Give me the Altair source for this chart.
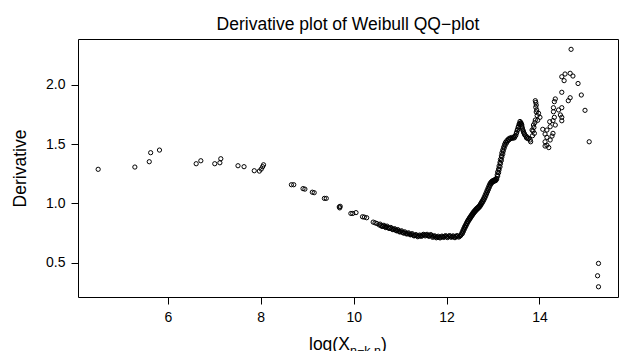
import altair as alt
import pandas as pd

# ---- data ----
x_vals = [
    4.50, 5.29, 5.60, 5.63, 5.82, 6.61, 6.71, 7.01, 7.12, 7.14, 7.51, 7.64, 7.86, 7.97, 8.01, 8.04, 8.06,
    8.66, 8.71, 8.91, 8.95, 9.11, 9.15, 9.37, 9.41, 9.69, 9.70, 9.71, 9.94, 9.98, 10.05,
    10.19, 10.23, 10.28, 10.42, 10.46, 10.50,
    10.55, 10.59, 10.63, 10.67, 10.70, 10.74, 10.78, 10.82, 10.86, 10.90, 10.93, 10.97, 11.01, 11.05,
    11.08, 11.12, 11.16, 11.20, 11.24, 11.28, 11.32, 11.36, 11.40, 11.44, 11.48, 11.52, 11.56, 11.60,
    11.64, 11.68, 11.72, 11.76, 11.80, 11.84, 11.88, 11.92, 11.96, 12.00, 12.04, 12.08, 12.12, 12.16,
    12.20, 12.24, 12.28, 12.31,
    12.33, 12.35, 12.37, 12.39, 12.41, 12.43, 12.45, 12.47, 12.49, 12.51, 12.53, 12.55, 12.57, 12.59,
    12.61, 12.63, 12.65, 12.67, 12.69, 12.71, 12.73, 12.75, 12.77, 12.79, 12.81, 12.83, 12.85, 12.87,
    12.89, 12.91, 12.93, 12.95, 12.97, 12.99, 13.01, 13.03, 13.05, 13.07, 13.09, 13.10, 13.12, 13.13,
    13.15, 13.16, 13.18, 13.19, 13.21, 13.23, 13.25, 13.27, 13.30, 13.33, 13.36, 13.40, 13.44, 13.47,
    13.50, 13.52, 13.54, 13.56, 13.58, 13.60, 13.62, 13.63, 13.65, 13.67, 13.70, 13.73, 13.77, 13.80,
    # second pass through the dense band
    10.57, 10.61, 10.65, 10.69, 10.72, 10.76, 10.80, 10.84, 10.88, 10.92, 10.95, 10.99, 11.03, 11.07,
    11.10, 11.14, 11.18, 11.22, 11.26, 11.30, 11.34, 11.38, 11.42, 11.46, 11.50, 11.54, 11.58, 11.62,
    11.66, 11.70, 11.74, 11.78, 11.82, 11.86, 11.90, 11.94, 11.98, 12.02, 12.06, 12.10, 12.14, 12.18,
    12.22, 12.26, 12.30,
    12.34, 12.36, 12.38, 12.40, 12.42, 12.44, 12.46, 12.48, 12.50, 12.52, 12.54, 12.56, 12.58, 12.60,
    12.62, 12.64, 12.66, 12.68, 12.70, 12.72, 12.74, 12.76, 12.78, 12.80, 12.82, 12.84, 12.86, 12.88,
    12.90, 12.92, 12.94, 12.96, 12.98, 13.00, 13.02, 13.04, 13.06, 13.08, 13.10, 13.12, 13.13, 13.15,
    13.16, 13.18, 13.19, 13.21, 13.22, 13.24, 13.26, 13.29, 13.32, 13.35, 13.38, 13.42, 13.46, 13.49,
    13.51, 13.53, 13.55, 13.57, 13.59, 13.61, 13.62, 13.64, 13.66, 13.68, 13.72, 13.75,
    # scattered upper tail
    13.81, 13.84, 13.87, 13.89, 13.91, 13.91, 13.93, 13.94, 13.98, 14.01, 13.92, 13.92, 13.93, 13.95,
    13.96, 13.90, 13.88, 13.86, 13.85,
    14.07, 14.12, 14.16, 14.16, 14.12, 14.23, 14.22, 14.23, 14.27, 14.29, 14.16, 14.20, 14.12,
    14.30, 14.30, 14.32, 14.29, 14.34, 14.34, 14.32, 14.41, 14.45, 14.48, 14.48, 14.48, 14.48,
    14.48, 14.55, 14.66, 14.72, 14.53, 14.68, 14.83, 14.90, 14.66, 14.62, 14.98, 15.07,
    15.27, 15.25, 15.27,
]
y_vals = [
    1.287, 1.306, 1.351, 1.427, 1.449, 1.334, 1.359, 1.334, 1.342, 1.376, 1.317, 1.309, 1.275, 1.272, 1.289, 1.309, 1.325,
    1.157, 1.157, 1.124, 1.120, 1.094, 1.090, 1.042, 1.042, 0.970, 0.962, 0.975, 0.915, 0.915, 0.922,
    0.887, 0.884, 0.879, 0.842, 0.836, 0.830,
    0.818, 0.812, 0.808, 0.803, 0.801, 0.795, 0.790, 0.785, 0.780, 0.776, 0.771, 0.766, 0.762, 0.757,
    0.752, 0.749, 0.745, 0.742, 0.738, 0.733, 0.729, 0.727, 0.725, 0.727, 0.731, 0.734, 0.732, 0.729,
    0.731, 0.726, 0.721, 0.718, 0.716, 0.714, 0.716, 0.719, 0.722, 0.718, 0.721, 0.724, 0.720, 0.717,
    0.721, 0.725, 0.722, 0.735,
    0.752, 0.770, 0.788, 0.805, 0.820, 0.836, 0.850, 0.863, 0.876, 0.887, 0.899, 0.910, 0.922, 0.932,
    0.941, 0.950, 0.958, 0.965, 0.972, 0.982, 0.995, 1.008, 1.021, 1.035, 1.052, 1.070, 1.088, 1.107,
    1.126, 1.145, 1.163, 1.175, 1.184, 1.190, 1.193, 1.198, 1.200, 1.210, 1.240, 1.265, 1.290, 1.315,
    1.345, 1.370, 1.400, 1.425, 1.450, 1.475, 1.498, 1.515, 1.530, 1.542, 1.550, 1.555, 1.558, 1.566,
    1.590, 1.615, 1.640, 1.665, 1.690, 1.680, 1.660, 1.635, 1.610, 1.590, 1.570, 1.560, 1.548, 1.534,
    # second pass through the dense band
    0.825, 0.806, 0.815, 0.796, 0.808, 0.789, 0.797, 0.779, 0.787, 0.769, 0.779, 0.759, 0.769, 0.750,
    0.760, 0.742, 0.752, 0.735, 0.745, 0.726, 0.737, 0.719, 0.733, 0.722, 0.739, 0.726, 0.739, 0.722,
    0.737, 0.714, 0.727, 0.710, 0.723, 0.709, 0.724, 0.713, 0.728, 0.712, 0.728, 0.714, 0.726, 0.711,
    0.728, 0.716, 0.728,
    0.745, 0.762, 0.780, 0.797, 0.812, 0.828, 0.843, 0.856, 0.868, 0.880, 0.892, 0.903, 0.914, 0.925,
    0.934, 0.943, 0.951, 0.958, 0.966, 0.975, 0.987, 1.000, 1.013, 1.027, 1.043, 1.060, 1.078, 1.097,
    1.116, 1.135, 1.153, 1.166, 1.176, 1.183, 1.186, 1.190, 1.193, 1.205, 1.230, 1.258, 1.282, 1.308,
    1.335, 1.362, 1.390, 1.415, 1.440, 1.465, 1.488, 1.508, 1.526, 1.538, 1.545, 1.548, 1.552, 1.572,
    1.598, 1.622, 1.648, 1.672, 1.675, 1.668, 1.645, 1.620, 1.598, 1.578, 1.552, 1.545,
    # scattered upper tail
    1.519, 1.618, 1.660, 1.590, 1.702, 1.865, 1.829, 1.787, 1.759, 1.725, 1.850, 1.810, 1.770, 1.740,
    1.700, 1.680, 1.640, 1.610, 1.570,
    1.624, 1.584, 1.618, 1.556, 1.519, 1.534, 1.688, 1.646, 1.567, 1.590, 1.490, 1.470, 1.483,
    1.806, 1.772, 1.725, 1.697, 1.660, 1.880, 1.857, 1.787, 1.745, 1.725, 1.696, 1.806, 1.936,
    2.067, 2.090, 2.096, 2.073, 2.034, 2.298, 2.010, 1.913, 1.890, 1.865, 1.784, 1.519,
    0.494, 0.390, 0.297,
]
x_ticks = [6, 8, 10, 12, 14]
y_ticks = [0.5, 1.0, 1.5, 2.0]
title_text = ["Derivative plot of Weibull QQ\u2212plot"]
y_title = "Derivative"
x_title_parts = ["log(X", "n\u2212k,n", ")"]

FONT = "Liberation Sans"
W, H = 540, 258

df = pd.DataFrame({"x": x_vals, "y": y_vals})

xscale = alt.Scale(domain=[4.066, 15.69], nice=False, zero=False)
yscale = alt.Scale(domain=[0.211, 2.385], nice=False, zero=False)

points = alt.Chart(df).mark_point(
    shape="circle", filled=False, color="black", size=18, strokeWidth=1, opacity=1
).encode(
    x=alt.X("x:Q", scale=xscale,
            axis=alt.Axis(values=x_ticks, title=None, domain=False, grid=False,
                          tickSize=7, tickColor="black", tickWidth=1,
                          labelFontSize=14, labelColor="black", labelFont=FONT,
                          labelPadding=6, format="d", labelFlush=False)),
    y=alt.Y("y:Q", scale=yscale,
            axis=alt.Axis(values=y_ticks, format=".1f", title=y_title,
                          titleFont=FONT, titleFontSize=17.5, titleFontWeight="normal",
                          titleColor="black", titleX=-58, titleY=H / 2, titleAngle=270,
                          titleBaseline="middle", titleAlign="center",
                          domain=False, grid=False, tickSize=7, tickColor="black", tickWidth=1,
                          labelFontSize=14, labelColor="black", labelFont=FONT,
                          labelPadding=6, labelAngle=0, labelFlush=False)),
)

title_mark = alt.Chart(pd.DataFrame({"t": title_text})).mark_text(
    font=FONT, fontSize=17.5, align="center", baseline="middle", color="black"
).encode(text="t:N", x=alt.value(W / 2), y=alt.value(-14))

lbl_main = alt.Chart(pd.DataFrame({"t": [x_title_parts[0]]})).mark_text(
    font=FONT, fontSize=17.5, align="left", baseline="alphabetic", color="black"
).encode(text="t:N", x=alt.value(231), y=alt.value(310.5))

lbl_sub = alt.Chart(pd.DataFrame({"t": [x_title_parts[1]]})).mark_text(
    font=FONT, fontSize=12.5, align="left", baseline="alphabetic", color="black"
).encode(text="t:N", x=alt.value(272), y=alt.value(315.5))

lbl_close = alt.Chart(pd.DataFrame({"t": [x_title_parts[2]]})).mark_text(
    font=FONT, fontSize=17.5, align="left", baseline="alphabetic", color="black"
).encode(text="t:N", x=alt.value(303), y=alt.value(310.5))

chart = alt.layer(points, title_mark, lbl_main, lbl_sub, lbl_close).properties(
    width=W, height=H,
    autosize=alt.AutoSizeParams(type="none"),
    padding={"left": 78, "top": 39, "right": 1, "bottom": 54},
    background="white",
).configure_view(stroke="black", strokeWidth=1)

chart.save("out.html", embed_options={"renderer": "svg", "actions": False})
